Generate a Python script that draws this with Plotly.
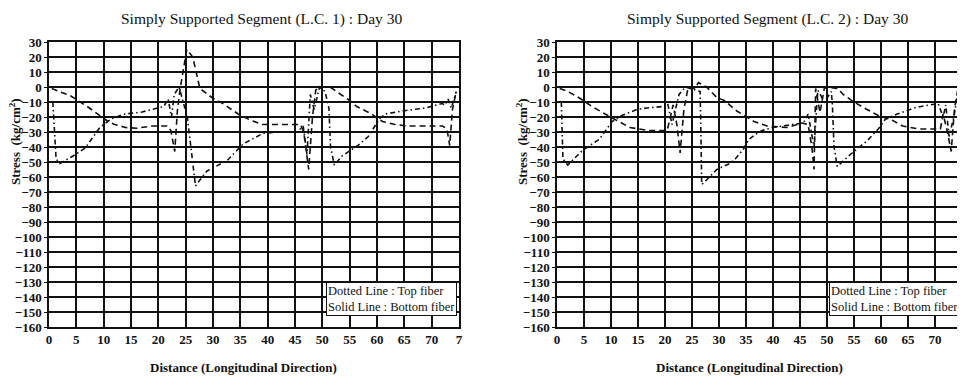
import plotly.graph_objects as go

# ---------------- data ----------------
x_ticks = [0, 5, 10, 15, 20, 25, 30, 35, 40, 45, 50, 55, 60, 65, 70, 75]
x_ticktext = ["0", "5", "10", "15", "20", "25", "30", "35", "40", "45", "50", "55", "60", "65", "70", "7"]
y_ticks = [30, 20, 10, 0, -10, -20, -30, -40, -50, -60, -70, -80, -90, -100, -110,
           -120, -130, -140, -150, -160]

titles = ["Simply Supported Segment (L.C. 1) : Day 30",
          "Simply Supported Segment (L.C. 2) : Day 30"]

# L.C. 1 - top fiber
lc1_top_x = [0.5, 2, 4, 7, 9.3, 10.8, 12, 14, 16, 18.8, 21.6, 22.3, 23, 23.5, 24, 25.2, 26.3,
             27.6, 29.8, 31.8, 34.6, 36.8, 39, 42, 44, 46, 46.6, 47.5, 48.2, 48.8, 49.6, 51.4,
             53, 55, 56.3, 59, 61, 63.3, 65.7, 69.3, 72, 72.8, 73.3, 73.8, 74.5]
lc1_top_y = [-1, -3, -6, -13, -19, -23, -25, -27, -27.5, -26, -26, -29, -43, -15, -1, 25, 20,
             -1, -7, -11, -18, -22, -25, -25, -25, -25, -30, -55, -20, -2, 0, 0,
             -4, -9, -13, -18, -23, -25, -26, -26, -26, -28, -39, -15, -3]
# L.C. 1 - bottom fiber
lc1_bot_x = [0.7, 1.3, 2, 3.5, 4.4, 6.6, 8, 9.3, 11.5, 13.9, 17, 20, 21, 21.8, 22.4, 22.9, 23.8,
             25.3, 26.8, 27.6, 28.9, 32.6, 35.5, 39.1, 42, 45.4, 46.5, 47.2, 47.8, 48.5, 49.5,
             50.5, 51.2, 51.5, 52.2, 53.6, 56.5, 58.4, 60.5, 61.5, 64.6, 68.8, 71.9, 72.5, 73,
             73.6, 74.5]
lc1_bot_y = [-10, -48, -51, -48, -46, -40.7, -34, -27, -21, -18, -16.7, -14, -13, -8, -20, -5, 0,
             -20, -66, -62, -56, -49, -38, -31, -30, -30, -26, -45, -5, -15, 0,
             -3, -14, -40, -52, -46, -39, -33, -21, -18, -16, -14, -11, -12, -8,
             -14, -3]

# L.C. 2 - top fiber
lc2_top_x = [0.5, 2, 4, 6.5, 8.9, 11, 13.5, 17, 20.4, 21, 21.5, 22.2, 22.8, 23.5, 24.3, 25.5,
             26.2, 27.7, 29.6, 31, 33.3, 36.5, 38.9, 42.6, 45.4, 46.5, 47.2, 47.6, 47.9, 48.7,
             49.5, 50, 52, 53, 55, 57.4, 59.5, 62, 64, 67, 69.6, 71, 71.5, 72.3, 73, 73.6, 74.3]
lc2_top_y = [-1, -3, -7, -13, -18, -22, -27, -29, -29, -20, -12, -25, -44, -15, 0, -1,
             3, 0, -7, -9, -16, -23, -26, -27, -24, -25, -40, -55, -1, -17,
             -1, 0, -1, -5, -10, -15, -19, -22, -26, -28, -28, -28, -18, -30, -43, -15, 0]
# L.C. 2 - bottom fiber
lc2_bot_x = [0.8, 1.1, 2, 4.8, 7.8, 10.2, 12, 14.8, 16.6, 19.6, 20.5, 21.3, 22, 22.6, 23.8,
             26.5, 26.6, 26.8, 27.7, 29.6, 32, 33, 34.6, 35.5, 37, 38, 40, 44.4, 45.5, 46,
             46.5, 47.6, 48.3, 49.5, 50.8, 51, 51.3, 51.9, 54.3, 57.4, 59.5, 60.8, 63, 66.6,
             70.6, 71.5, 72, 72.6, 73.5, 74.3]
lc2_bot_y = [-10, -48, -52, -42, -35, -23, -19, -15, -14, -13, -11, -25, -14, -5, 0,
             -3, -20, -65, -62, -55, -51, -48, -41, -35, -31, -29, -27, -25, -24, -22,
             -18, -40, -2, -10, -3, -12, -40, -53, -45, -36, -28, -21.5, -18, -13.5,
             -11, -20, -12, -33, -20, -2]

legend_lines = ["Dotted Line : Top fiber", "Solid Line : Bottom fiber"]

# ---------------- figure ----------------
PAGE_W, PAGE_H = 965, 378
OFF = 8                      # default body margin of the html page
FW, FH = PAGE_W - OFF, PAGE_H - OFF


def px(x):
    return (x - OFF) / FW


def py(y):
    return 1 - (y - OFF) / FH


fig = go.Figure()

panels = [
    dict(xd=[px(49), px(459)], top=(lc1_top_x, lc1_top_y), bot=(lc1_bot_x, lc1_bot_y)),
    dict(xd=[px(557), px(962)], top=(lc2_top_x, lc2_top_y), bot=(lc2_bot_x, lc2_bot_y)),
]
ydom = [py(327), py(42)]

serif = "Liberation Serif, Times New Roman, serif"
ink = "#111111"

annotations = []
for i, p in enumerate(panels):
    xa = "x" if i == 0 else "x2"
    ya = "y" if i == 0 else "y2"
    fig.add_trace(go.Scatter(x=p["top"][0], y=p["top"][1], mode="lines", xaxis=xa, yaxis=ya,
                             line=dict(color=ink, width=1.6, dash="6px,4px"),
                             showlegend=False, name="Top fiber"))
    fig.add_trace(go.Scatter(x=p["bot"][0], y=p["bot"][1], mode="lines", xaxis=xa, yaxis=ya,
                             line=dict(color=ink, width=1.6, dash="5px,3px,1.5px,3px"),
                             showlegend=False, name="Bottom fiber"))
    axis_common = dict(showgrid=True, gridcolor=ink, gridwidth=1.7, zeroline=False,
                       showline=True, linecolor=ink, linewidth=1.5, mirror=True,
                       automargin=False,
                       tickfont=dict(family=serif, size=13, color=ink, weight="bold"))
    xkey = "xaxis" if i == 0 else "xaxis2"
    ykey = "yaxis" if i == 0 else "yaxis2"
    fig.update_layout(**{
        xkey: dict(domain=p["xd"], range=[0, 75], tickvals=x_ticks, ticktext=x_ticktext,
                   anchor=ya, ticks="", ticklen=0, **axis_common),
        ykey: dict(domain=ydom, range=[-160, 30], tickvals=y_ticks, anchor=xa,
                   ticks="outside", ticklen=3, tickcolor=ink, **axis_common),
    })
    cx_page = 262 if i == 0 else 767
    annotations.append(dict(text=titles[i], x=px(cx_page), y=py(8), xref="paper", yref="paper",
                            showarrow=False, xanchor="center", yanchor="top",
                            font=dict(family=serif, size=15.5, color=ink)))
    annotations.append(dict(text="<b>Distance (Longitudinal Direction)</b>",
                            x=px(243 if i == 0 else 749), y=py(367), xref="paper", yref="paper",
                            showarrow=False, xanchor="center", yanchor="middle",
                            font=dict(family=serif, size=13, color=ink)))
    annotations.append(dict(text="<b>Stress  (kg/cm<sup>2</sup>)</b>",
                            x=px(15 if i == 0 else 522), y=py(142),
                            xref="paper", yref="paper", showarrow=False, textangle=-90,
                            xanchor="center", yanchor="middle",
                            font=dict(family=serif, size=13, color=ink)))
    annotations.append(dict(text="<br>".join(legend_lines), x=p["xd"][1] - 2 / FW,
                            y=py(282), xref="paper", yref="paper", showarrow=False,
                            xanchor="right", yanchor="top", align="left",
                            bgcolor="white", bordercolor=ink, borderwidth=1, borderpad=1,
                            font=dict(family=serif, size=12.5, color=ink)))

fig.update_layout(width=FW, height=FH, margin=dict(l=0, r=0, t=0, b=0),
                  paper_bgcolor="white", plot_bgcolor="white",
                  annotations=annotations)

fig.write_html("out.html")
